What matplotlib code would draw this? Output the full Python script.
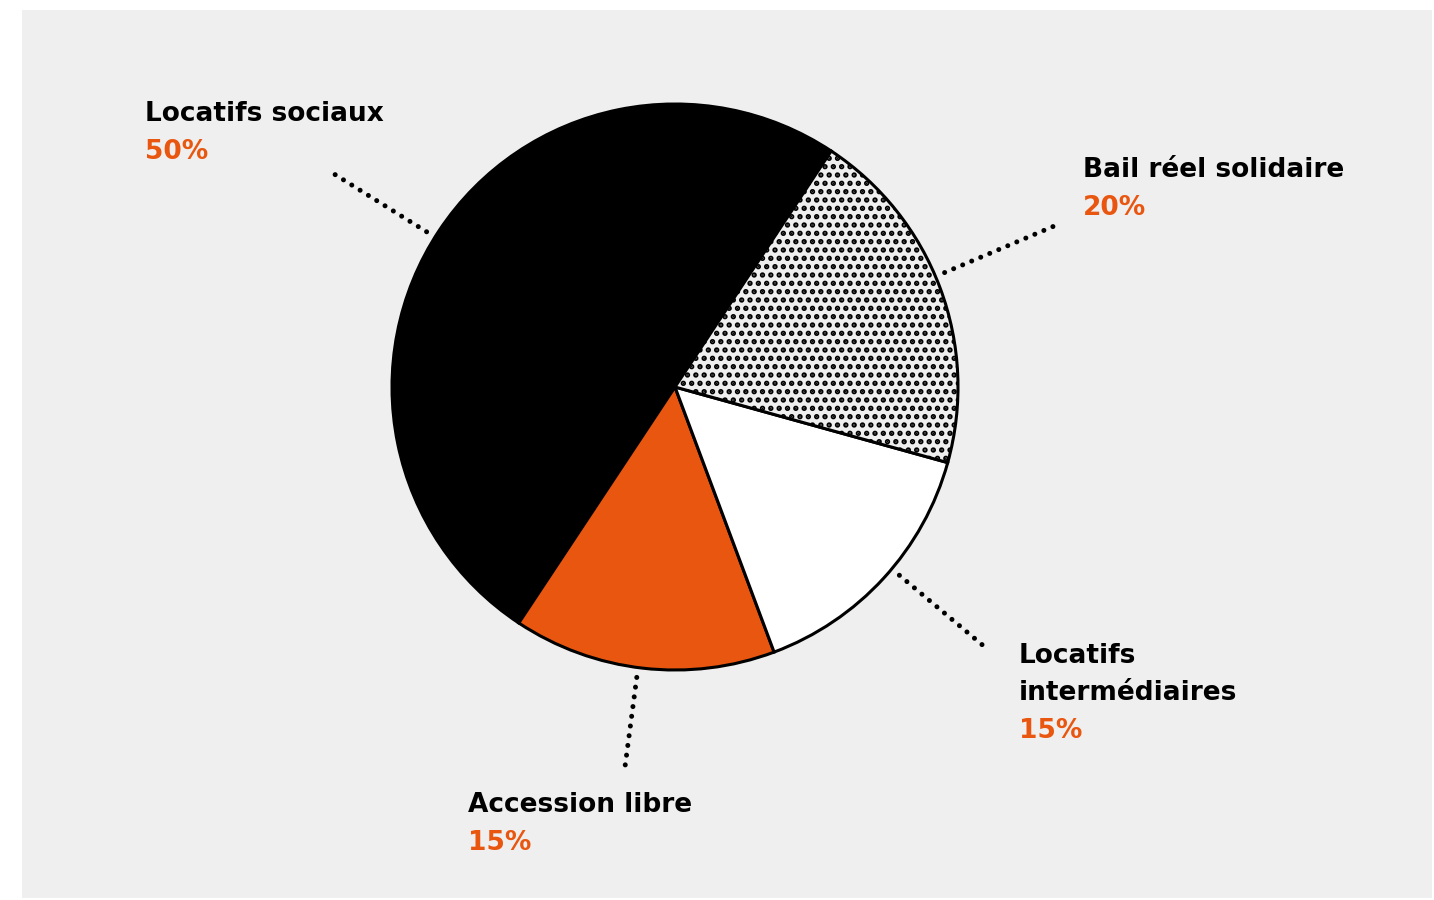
import numpy as np
import matplotlib
matplotlib.use("Agg")
import matplotlib.pyplot as plt
from matplotlib.patches import Rectangle

labels = ["Locatifs sociaux", "Accession libre", "Locatifs\nintermédiaires", "Bail réel solidaire"]
shares = [50, 15, 15, 20]
pct_labels = ["50%", "15%", "15%", "20%"]

ORANGE = "#e9560f"
BG = "#efefef"
W, H = 1434, 900

plt.rcParams["hatch.linewidth"] = 2.6
plt.rcParams["font.family"] = ["DejaVu Sans"]

fig = plt.figure(figsize=(W / 100, H / 100), dpi=100, facecolor="white")
fig.patches.append(Rectangle((22 / W, 2 / H), 1410 / W, 888 / H, transform=fig.transFigure,
                             facecolor=BG, edgecolor="none", zorder=-1))

# axes: pie of radius 1 centred at pixel (675, 387), 283 px per unit
R = 283.0
cx, cy = 675, 387
ax = fig.add_axes([0, 0, 1, 1])
wedges, _ = ax.pie(shares, startangle=56.5, counterclock=True,
                   colors=["black", ORANGE, "white", BG],
                   wedgeprops=dict(edgecolor="black", linewidth=2.2))
wedges[3].set_hatch("..")
ax.set_aspect("auto")
ax.set_xlim(-cx / R, (W - cx) / R)
ax.set_ylim(-(H - cy) / R, cy / R)
ax.axis("off")

# dotted leader lines, radial at mid-angle of each wedge
tweak = [1.5, -1, 2.5, 2.5]
outer = [1.42, 1.36, 1.43, 1.47]
for w, dt, ro in zip(wedges, tweak, outer):
    a = np.deg2rad((w.theta1 + w.theta2) / 2 + dt)
    ax.plot([1.035 * np.cos(a), ro * np.cos(a)], [1.035 * np.sin(a), ro * np.sin(a)],
            color="black", lw=3.6, linestyle=(0, (0.01, 1.95)),
            dash_capstyle="round")

# label positions (pixel: left x, baseline y of first line)
label_pos = [(145, 121), (468, 812), (1019, 663), (1083, 177)]
line_h = 37
for name, pct, (x, y) in zip(labels, pct_labels, label_pos):
    lines = name.split("\n")
    for i, ln in enumerate(lines):
        fig.text(x / W, 1 - (y + i * line_h) / H, ln, fontsize=19, fontweight="bold",
                 color="black", ha="left", va="baseline")
    fig.text(x / W, 1 - (y + len(lines) * line_h + 1) / H, pct, fontsize=19,
             fontweight="bold", color=ORANGE, ha="left", va="baseline")

fig.savefig("out.png", dpi=100, facecolor="white")
